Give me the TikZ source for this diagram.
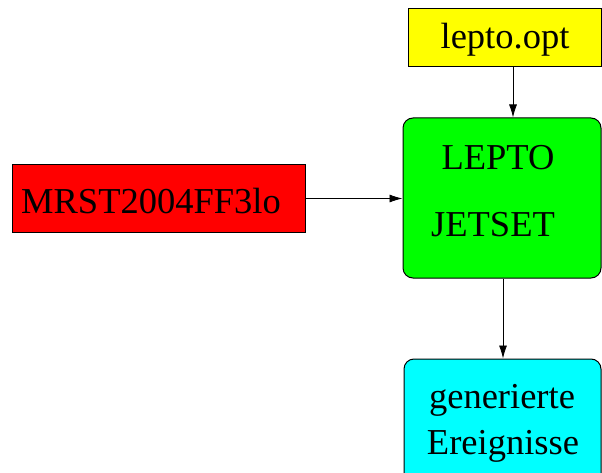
\documentclass[tikz,border=0pt]{standalone}
\usepackage{fontspec}
\setmainfont{Liberation Serif}
\usetikzlibrary{arrows.meta}
\definecolor{cYel}{RGB}{255,255,0}
\definecolor{cGrn}{RGB}{0,255,0}
\definecolor{cRed}{RGB}{255,0,0}
\definecolor{cCyn}{RGB}{0,255,255}
\begin{document}
\begin{tikzpicture}[x=1pt,y=-1pt,
  box/.style={draw=black,line width=1pt,inner sep=0pt,minimum width=#1},
  lbl/.style={inner sep=0pt,font=\fontsize{36.5}{40}\selectfont},
  arr/.style={line width=0.8pt,-{Latex[length=13pt,width=8pt]}}]
\useasboundingbox (0,0) rectangle (602,473);
\clip (0,0) rectangle (602,473);
\node[box=193pt,fill=cYel,minimum height=58pt] (yellow) at (504.5,38) {};
\node[box=198pt,fill=cGrn,minimum height=160pt,rounded corners=10pt] (green) at (502,198) {};
\node[box=293pt,fill=cRed,minimum height=67pt] (red) at (158.5,198.5) {};
\node[box=197pt,fill=cCyn,minimum height=130pt,rounded corners=10pt] (cyan) at (502.5,424) {};
\node[lbl] (t1) at (505,40) {lepto.opt};
\node[lbl] (t2) at (498,158) {LEPTO};
\node[lbl] (t3) at (493,225) {JETSET};
\node[lbl] (t4) at (151,201) {MRST2004FF3lo};
\node[lbl] (t5) at (502,400) {generierte};
\node[lbl] (t6) at (503,446) {Ereignisse};
\coordinate (c1) at (513,0);
\coordinate (c2) at (503,0);
\draw[arr] (yellow.south -| c1) -- (green.north -| c1);
\draw[arr] (red.east) -- (red.east -| green.west);
\draw[arr] (green.south -| c2) -- (cyan.north -| c2);
\end{tikzpicture}
\end{document}
